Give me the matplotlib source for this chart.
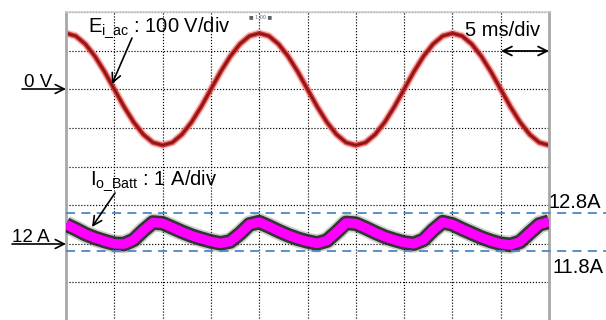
import numpy as np
import matplotlib
matplotlib.use('Agg')
import matplotlib.pyplot as plt

plt.rcParams['font.family'] = ['Liberation Sans', 'DejaVu Sans']
plt.rcParams['mathtext.fontset'] = 'custom'
plt.rcParams['mathtext.rm'] = 'Liberation Sans'
plt.rcParams['mathtext.it'] = 'Liberation Sans'

# ---- data ----
time_ms = list(range(0, 51))          # 5 ms/div, 10 divisions
voltage_v = [145, 138, 117, 85, 45, 0, -45, -85, -117, -138,
             -145, -138, -117, -85, -45, 0, 45, 85, 117, 138,
             145, 138, 117, 85, 45, 0, -45, -85, -117, -138,
             -145, -138, -117, -85, -45, 0, 45, 85, 117, 138,
             145, 138, 117, 85, 45, 0, -45, -85, -117, -138,
             -145]
current_a = [12.50, 12.38, 12.25, 12.15, 12.07, 12.00, 11.99, 12.10, 12.34, 12.55,
             12.53, 12.42, 12.31, 12.21, 12.13, 12.06, 12.01, 12.06, 12.26, 12.50,
             12.56, 12.45, 12.33, 12.22, 12.13, 12.06, 12.01, 12.08, 12.30, 12.54,
             12.52, 12.41, 12.29, 12.18, 12.10, 12.03, 12.00, 12.10, 12.35, 12.56,
             12.50, 12.38, 12.27, 12.16, 12.07, 12.00, 11.97, 12.05, 12.28, 12.50,
             12.57]
limit_levels_a = [12.8, 11.8]
limit_labels = ['12.8A', '11.8A']

W, H = 606, 320
fig = plt.figure(figsize=(W / 100, H / 100), dpi=100)
fig.patch.set_facecolor('white')


def P(x, y):
    """image pixel -> figure fraction"""
    return (x / W, 1 - y / H)


left, right, top, bottom = 66, 549, 12, 321
ax = fig.add_axes([left / W, 1 - bottom / H, (right - left) / W, (bottom - top) / H])
ax.set_xlim(0, 50)
ax.set_ylim(-600, 200)                 # 100 V/div, 0 V two divisions below top
ax.set_xticks(np.arange(0, 51, 5))
ax.set_yticks(np.arange(-600, 201, 100))
ax.grid(True, color='black', linestyle=(0, (1, 1.5)), linewidth=0.85)
ax.tick_params(length=0, labelbottom=False, labelleft=False)
for s in ['left', 'right']:
    ax.spines[s].set_color('#a8a8a8')
    ax.spines[s].set_linewidth(2.0)
ax.spines['top'].set_color('#d0d0d0')
ax.spines['top'].set_linewidth(1.2)
ax.spines['bottom'].set_visible(False)

# voltage trace (red with glow)
ax.plot(time_ms, voltage_v, color='#f07070', lw=5.5, alpha=0.45, solid_capstyle='butt')
ax.plot(time_ms, voltage_v, color='#d02828', lw=3.4, alpha=0.9, solid_capstyle='butt')
ax.plot(time_ms, voltage_v, color='#8a1515', lw=1.6, solid_capstyle='butt')

# current channel on its own scale: 1 A/div, 12 A two divisions above bottom
axi = ax.twinx()
axi.set_ylim(10, 18)
axi.set_yticks([])
for s in axi.spines.values():
    s.set_visible(False)

axi.plot(time_ms, current_a, color='#6a7a6a', lw=13, alpha=0.35, solid_capstyle='butt')
axi.plot(time_ms, current_a, color='#1a1a1a', lw=10.5, alpha=0.85, solid_capstyle='butt')
axi.plot(time_ms, current_a, color='#ff00ff', lw=6.8, solid_capstyle='butt')

for lvl in limit_levels_a:
    axi.axhline(lvl, xmin=0, xmax=(W - left) / (right - left), color='#4f86c6',
                lw=1.3, linestyle=(0, (5, 3.5)), clip_on=False)

# ---- annotations ----
arrow_kw = dict(arrowstyle='->', lw=1.2, color='black', mutation_scale=16,
                shrinkA=0, shrinkB=0)

fig.text(*P(88, 32), r'$\mathregular{E_{i\_ac}}$ : 100 V/div', fontsize=14.5, va='baseline')
fig.add_artist(matplotlib.patches.FancyArrowPatch(P(132, 38), P(112, 84),
               transform=fig.transFigure, **arrow_kw))

fig.text(*P(24, 87), '0 V', fontsize=13.5, va='baseline')
fig.add_artist(matplotlib.patches.FancyArrowPatch(P(22, 89), P(66, 89),
               transform=fig.transFigure, **arrow_kw))

fig.text(*P(465, 36), '5 ms/div', fontsize=14.5, va='baseline')
fig.add_artist(matplotlib.patches.FancyArrowPatch(P(501, 51), P(549, 51),
               transform=fig.transFigure, arrowstyle='<->', lw=1.3, color='black',
               mutation_scale=16, shrinkA=0, shrinkB=0))

fig.text(*P(90, 185), r'$\mathregular{I_{o\_Batt}}$ : 1 A/div', fontsize=14.5, va='baseline')
fig.add_artist(matplotlib.patches.FancyArrowPatch(P(115, 193), P(92, 227),
               transform=fig.transFigure, **arrow_kw))

fig.text(*P(12, 242), '12 A', fontsize=13.5, va='baseline')
fig.add_artist(matplotlib.patches.FancyArrowPatch(P(12, 244), P(66, 244),
               transform=fig.transFigure, **arrow_kw))

fig.text(*P(549, 208), limit_labels[0], fontsize=14.5, va='baseline')
fig.text(*P(552, 273), limit_labels[1], fontsize=14.5, va='baseline')

fig.text(*P(249, 18), '\u25a0 1.00 \u25a0', fontsize=3.5, color='#606060',
         family='DejaVu Sans', va='baseline')

fig.savefig('out.png', dpi=100, facecolor='white')
